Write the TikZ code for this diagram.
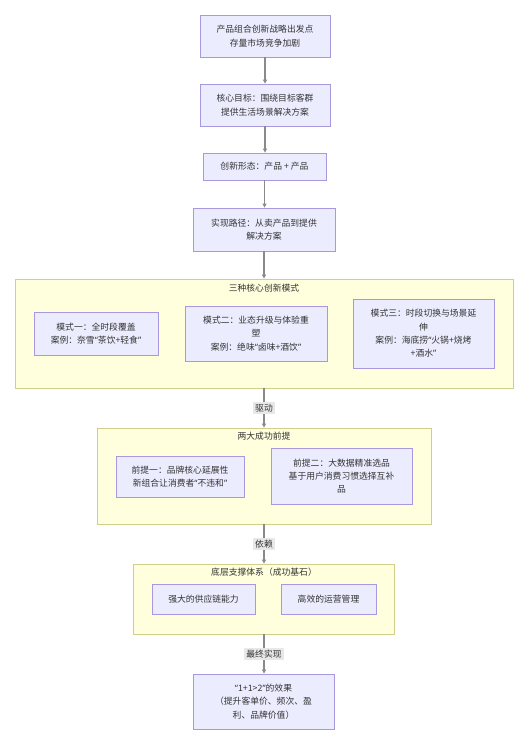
\documentclass[tikz,border=0pt]{standalone}
\usepackage{fontspec}
\setmainfont{Noto Sans CJK SC}
\newfontfamily\latq{Noto Sans}
\newcommand{\oq}{{\latq “}}
\newcommand{\cq}{{\latq ”}}
\usetikzlibrary{arrows.meta}
\definecolor{nodefill}{HTML}{ECECFF}
\definecolor{nodeline}{HTML}{A899DE}
\definecolor{grpfill}{HTML}{FFFFDE}
\definecolor{grpline}{HTML}{CFCF8A}
\definecolor{txt}{HTML}{333333}
\definecolor{edge}{HTML}{8A8A8A}
\definecolor{lblbg}{HTML}{E8E8E8}
\tikzset{
  box/.style={draw=nodeline, fill=nodefill, line width=0.6pt, align=center, inner sep=0pt, text=txt, font=\fontsize{6.6pt}{10pt}\selectfont},
  grp/.style={draw=grpline, fill=grpfill, line width=0.6pt, inner sep=0pt},
  grptitle/.style={text=txt, font=\fontsize{6.6pt}{8pt}\selectfont, inner sep=0pt},
  conn/.style={draw=edge, line width=0.8pt, -{Triangle[length=3pt,width=3pt]}},
  elabel/.style={fill=lblbg, text=txt, font=\fontsize{6.6pt}{8pt}\selectfont, inner sep=1.5pt}
}
\begin{document}
\begin{tikzpicture}[x=0.75pt,y=-0.75pt]
\useasboundingbox[fill=white] (0,0) rectangle (528,745);
% groups
\node[grp, minimum width=498*0.75pt, minimum height=109*0.75pt] (g1) at (264,333.5) {};
\node[grptitle] (g1t) at (264,288) {三种核心创新模式};
\node[grp, minimum width=334*0.75pt, minimum height=96*0.75pt] (g2) at (264,476) {};
\node[grptitle] (g2t) at (264,436) {两大成功前提};
\node[grp, minimum width=261*0.75pt, minimum height=70*0.75pt] (g3) at (263.5,599) {};
\node[grptitle] (g3t) at (264,572) {底层支撑体系（成功基石）};
% main nodes
\node[box, minimum width=130*0.75pt, minimum height=42*0.75pt] (n1) at (265,36) {产品组合创新战略出发点\\存量市场竞争加剧};
\node[box, minimum width=130*0.75pt, minimum height=42*0.75pt] (n2) at (265,105) {核心目标：围绕目标客群\\提供生活场景解决方案};
\node[box, minimum width=123*0.75pt, minimum height=27*0.75pt] (n3) at (264.5,166.5) {创新形态：产品 + 产品};
\node[box, minimum width=142*0.75pt, minimum height=43*0.75pt] (n4) at (264,229.5) {实现路径：从卖产品到提供\\解决方案};
\node[box, minimum width=124*0.75pt, minimum height=43*0.75pt] (m1) at (96,333.5) {模式一：全时段覆盖\\案例：奈雪\oq 茶饮+轻食\cq};
\node[box, minimum width=142*0.75pt, minimum height=55*0.75pt] (m2) at (256,333.5) {模式二：业态升级与体验重\\塑\\案例：绝味\oq 卤味+酒饮\cq};
\node[box, minimum width=141*0.75pt, minimum height=69*0.75pt] (m3) at (423.5,333.5) {模式三：时段切换与场景延\\伸\\案例：海底捞\oq 火锅+烧烤\\+酒水\cq};
\node[box, minimum width=128*0.75pt, minimum height=41*0.75pt] (p1) at (180,476.5) {前提一：品牌核心延展性\\新组合让消费者\oq 不违和\cq};
\node[box, minimum width=141*0.75pt, minimum height=56*0.75pt] (p2) at (341.5,476) {前提二：大数据精准选品\\基于用户消费习惯选择互补\\品};
\node[box, minimum width=103*0.75pt, minimum height=30*0.75pt] (s1) at (203.5,599) {强大的供应链能力};
\node[box, minimum width=95*0.75pt, minimum height=30*0.75pt] (s2) at (328.5,599) {高效的运营管理};
\node[box, minimum width=141*0.75pt, minimum height=55*0.75pt] (fin) at (263.5,701.5) {\oq 1+1>2\cq 的效果\\（提升客单价、频次、盈\\利、品牌价值）};
% connectors
\draw[conn] (n1.south) -- (n1.south |- n2.north);
\draw[conn] (n2.south) -- (n2.south |- n3.north);
\draw[conn] (n3.south) -- (n3.south |- n4.north);
\draw[conn] (n4.south) -- (n4.south |- g1.north);
\draw[conn] (g1.south) -- node[elabel] (l1) {驱动} (g2.north);
\draw[conn] (g2.south) -- node[elabel] (l2) {依赖} (g2.south |- g3.north);
\draw[conn] (g3.south -| g2.south) -- node[elabel] (l3) {最终实现} (g2.south |- fin.north);
\end{tikzpicture}
\end{document}
